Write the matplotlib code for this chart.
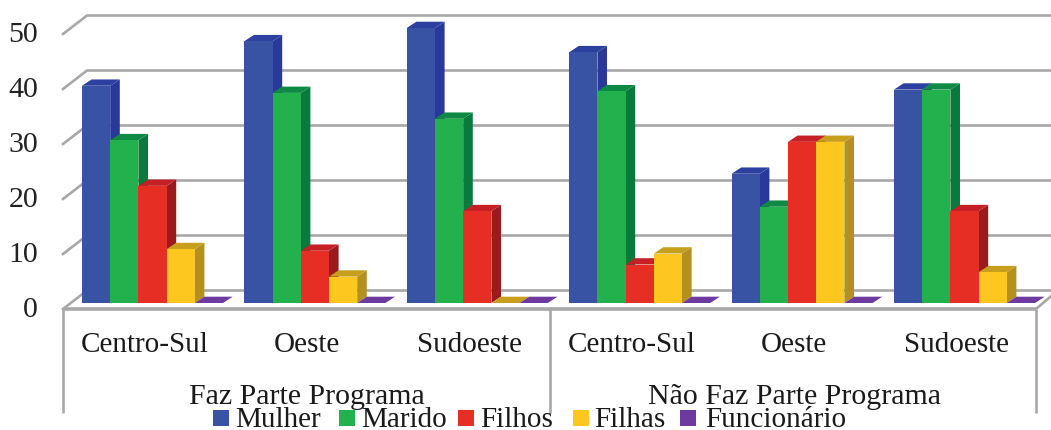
import matplotlib
matplotlib.use("Agg")
import matplotlib.pyplot as plt
from matplotlib.patches import Polygon, Rectangle
from matplotlib.transforms import Affine2D

plt.rcParams["font.family"] = ["Liberation Serif", "DejaVu Serif"]

regions = ["Centro-Sul", "Oeste", "Sudoeste", "Centro-Sul", "Oeste", "Sudoeste"]
programs = ["Faz Parte Programa", "Não Faz Parte Programa"]
series = ["Mulher", "Marido", "Filhos", "Filhas", "Funcionário"]
yticks = [0, 10, 20, 30, 40, 50]

mulher = [39.5, 47.6, 50, 45.6, 23.5, 38.8]
marido = [29.6, 38.2, 33.5, 38.5, 17.5, 38.8]
filhos = [21.3, 9.5, 16.7, 7, 29.3, 16.7]
filhas = [9.8, 4.8, 0, 9, 29.3, 5.6]
funcionario = [0, 0, 0, 0, 0, 0]
values = [mulher, marido, filhos, filhas, funcionario]

front = ["#3853a4", "#22b14c", "#e62e24", "#fdc71f", "#6f3aa0"]
side = ["#29399a", "#087a3e", "#9b1a1e", "#b3901f", "#6f3aa0"]
top = ["#2c409f", "#0e8a45", "#c42026", "#c79f1d", "#6f3aa0"]
grid = "#a8a8a8"

# one axis unit across = one region group, one unit up = one value unit
W, H = 1051, 430
GROUP = 162.4
PY = 5.5
X0, Y0 = 82, 303

fig = plt.figure(figsize=(W / 100, H / 100), dpi=100)
ax = fig.add_axes([0, 0, 1, 1])
ax.set_xlim(-X0 / GROUP, (W - X0) / GROUP)
ax.set_ylim((Y0 - H) / PY, Y0 / PY)
ax.axis("off")
px = Affine2D().scale(1, -1).translate(0, H)

bar_w = 28.2 / GROUP
dx_bar, dy_bar = 9.6 / GROUP, 6.3 / PY
wall_dx, wall_dy = 24 / GROUP, 18.5 / PY
floor = 6 / PY
left = -19 / GROUP


def pline(xs, ys, **kw):
    ax.plot(xs, ys, transform=px, color=grid, solid_capstyle="butt", **kw)


# back wall: gridlines with their short returns to the front edge
for v in yticks:
    y0 = v - floor
    ax.plot([left, left + wall_dx, 1000], [y0, y0 + wall_dy, y0 + wall_dy],
            color=grid, lw=1.9, zorder=1)

# floor edge and the dividers of the category axis
pline([63, 1036], [309, 309], lw=2.6, zorder=1)
pline([63, 63], [309, 413], lw=1.9, zorder=1)
pline([550, 550], [309, 413], lw=1.9, zorder=1)
pline([1036, 1036], [309, 413], lw=1.9, zorder=1)
pline([1036, 1056], [309, 292], lw=1.9, zorder=1)

# bars, left to right so each front face hides the side of its neighbour
for g in range(len(regions)):
    for s, vals in enumerate(values):
        x = g + s * bar_w
        v = vals[g]
        z = 2 + g + s * 0.1
        if v > 0:
            ax.bar(x, v, width=bar_w, align="edge", color=front[s], zorder=z + 0.02)
            ax.add_patch(Polygon([(x + bar_w, 0), (x + bar_w + dx_bar, dy_bar),
                                  (x + bar_w + dx_bar, v + dy_bar), (x + bar_w, v)],
                                 color=side[s], lw=0, zorder=z))
        ax.add_patch(Polygon([(x, v), (x + dx_bar, v + dy_bar),
                              (x + bar_w + dx_bar, v + dy_bar), (x + bar_w, v)],
                             color=top[s], lw=0, zorder=z + 0.01))

# value axis labels
for v in yticks:
    ax.text(38, 310 - v * PY, str(v), transform=px, ha="right",
            va="center", fontsize=21.5, color="#222222")

for g, name in enumerate(regions):
    ax.text(144.5 + g * GROUP, 345, name, transform=px, ha="center", va="center",
            fontsize=21, color="#1a1a1a", zorder=20)
for cx, name in zip([307, 794], programs):
    ax.text(cx, 397, name, transform=px, ha="center", va="center",
            fontsize=21.5, color="#1a1a1a", zorder=20)

# legend overlaps the group labels slightly
for sx, tx, name, c in zip([213, 339, 458, 573, 680], [235, 361, 480, 594, 705], series, front):
    ax.add_patch(Rectangle((sx, 410), 16, 16, transform=px, color=c, lw=0, zorder=21))
    ax.text(tx, 420, name, transform=px, ha="left", va="center",
            fontsize=21, color="#1a1a1a", zorder=21)

fig.savefig("out.png", dpi=100, facecolor="white")
